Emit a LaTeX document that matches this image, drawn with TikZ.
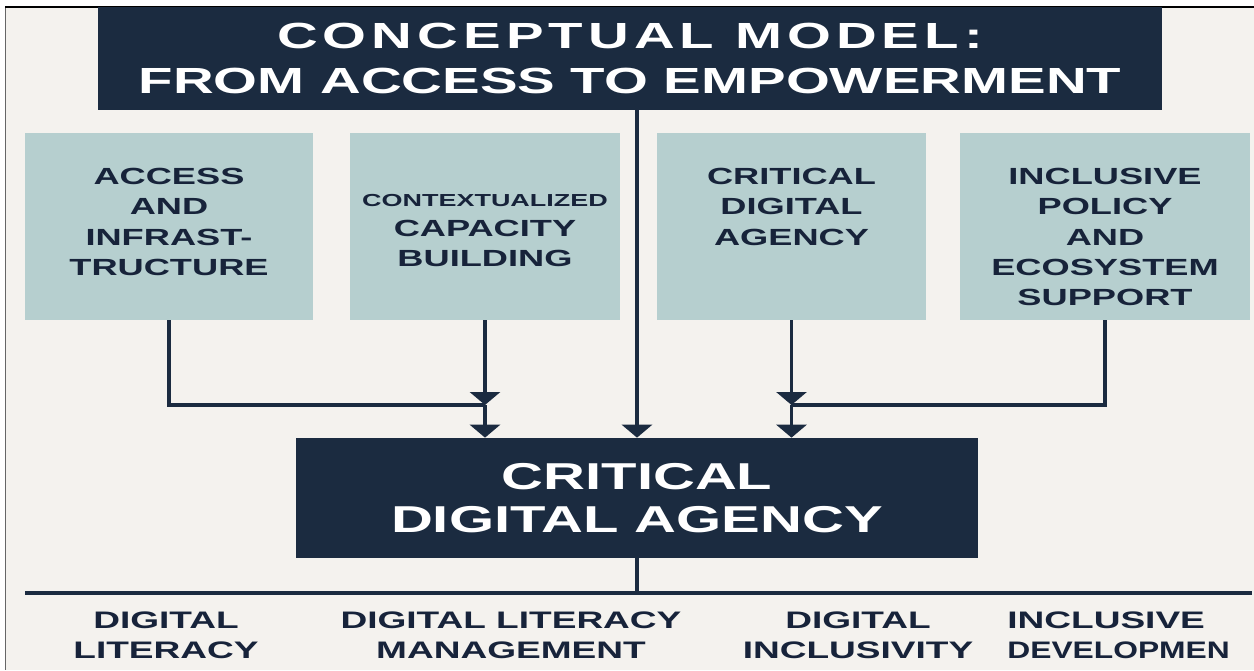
\documentclass[tikz,border=0pt]{standalone}
\usepackage{fontspec}
\usetikzlibrary{arrows.meta,positioning}
\newfontfamily\widesans[FakeStretch=1.55]{Liberation Sans}
\newfontfamily\narrowsans[FakeStretch=1.33]{Liberation Sans}
\definecolor{navy}{HTML}{1B2B40}
\definecolor{sage}{HTML}{B6CFCF}
\definecolor{paper}{HTML}{F4F2EE}
\definecolor{ink}{HTML}{17233A}

\begin{document}
\begin{tikzpicture}[x=0.02cm,y=-0.02cm]
  \tikzset{darkbox/.style={fill=navy,text=white,inner sep=0pt,align=center}}
  \tikzset{pillar/.style={fill=sage,inner sep=0pt,minimum height=3.74cm}}
  \tikzset{pillartext/.style={text=ink,inner sep=0pt,align=center,font=\widesans\bfseries\fontsize{13.3}{17.3}\selectfont}}
  \tikzset{outcome/.style={text=ink,inner sep=0pt,align=center,font=\widesans\bfseries\fontsize{13.6}{17}\selectfont}}
  \tikzset{link/.style={draw=navy,line width=2pt}}
  \tikzset{flow/.style={link,-{Triangle[width=0.6cm,length=0.26cm]}}}
  \useasboundingbox (0,0) rectangle (1254,670);
  % page
  \fill[white] (0,0) rectangle (1254,670);
  \fill[paper] (5,7) rectangle (1254,670);
  \draw[black!60,line width=0.4pt] (5,7) -- (5,670);
  \draw[black,line width=1.2pt] (5,7) -- (1254,7);
  % heading
  \node[darkbox,minimum width=21.3cm,minimum height=2.06cm,
        font=\widesans\bfseries\fontsize{20.7}{26}\selectfont] (title) at (630,58.5)
    {{\addfontfeature{LetterSpace=14}CONCEPTUAL MODEL:}\\FROM ACCESS TO EMPOWERMENT};
  % the four pillars
  \node[pillar,minimum width=5.76cm] (acc) at (169,226.5) {};
  \node[pillar,minimum width=5.4cm] (cap) at (485,226.5) {};
  \node[pillar,minimum width=5.38cm] (crit) at (791.5,226.5) {};
  \node[pillar,minimum width=5.8cm] (inc) at (1105,226.5) {};
  \node[pillartext,below=0.7cm of acc.north] (accT) {ACCESS\\AND\\INFRAST-\\TRUCTURE};
  \node[pillartext,below=1.22cm of cap.north] (capT)
    {{\fontsize{9.9}{17.3}\selectfont CONTEXTUALIZED}\\CAPACITY\\BUILDING};
  \node[pillartext,below=0.7cm of crit.north] (critT) {CRITICAL\\DIGITAL\\AGENCY};
  \node[pillartext,below=0.7cm of inc.north] (incT) {INCLUSIVE\\POLICY\\AND\\ECOSYSTEM\\SUPPORT};
  % result
  \node[darkbox,minimum width=13.64cm,minimum height=2.4cm,
        font=\widesans\bfseries\fontsize{21.3}{24.4}\selectfont] (agency) at (637,498)
    {CRITICAL\\DIGITAL AGENCY};
  % connectors
  \coordinate (j1) at (cap.south |- 0,405);
  \coordinate (j2) at (crit.south |- 0,405);
  \draw[link] (acc.south) |- (j1);
  \draw[link] (inc.south) |- (j2);
  \draw[flow] (cap.south) -- (j1);
  \draw[flow] (crit.south) -- (j2);
  \draw[flow] (j1) -- (agency.north -| j1);
  \draw[flow] (j2) -- (agency.north -| j2);
  \draw[flow] (title.south -| agency.north) -- (agency.north);
  % outcomes
  \coordinate (base) at (agency.south |- 0,593);
  \coordinate (rl) at (25,593);
  \coordinate (rr) at (1252,593);
  \draw[link] (agency.south) -- (base);
  \draw[link] (rl) -- (rr);
  \node[outcome] (lit) at (166,635) {DIGITAL\\LITERACY};
  \node[outcome] (mgmt) at (511,635) {DIGITAL LITERACY\\MANAGEMENT};
  \node[outcome] (incl) at (858,635) {DIGITAL\\INCLUSIVITY};
  \node[outcome,anchor=west,align=left] (dev) at (1007,635)
    {INCLUSIVE\\{\narrowsans\bfseries DEVELOPMEN}};
\end{tikzpicture}
\end{document}
